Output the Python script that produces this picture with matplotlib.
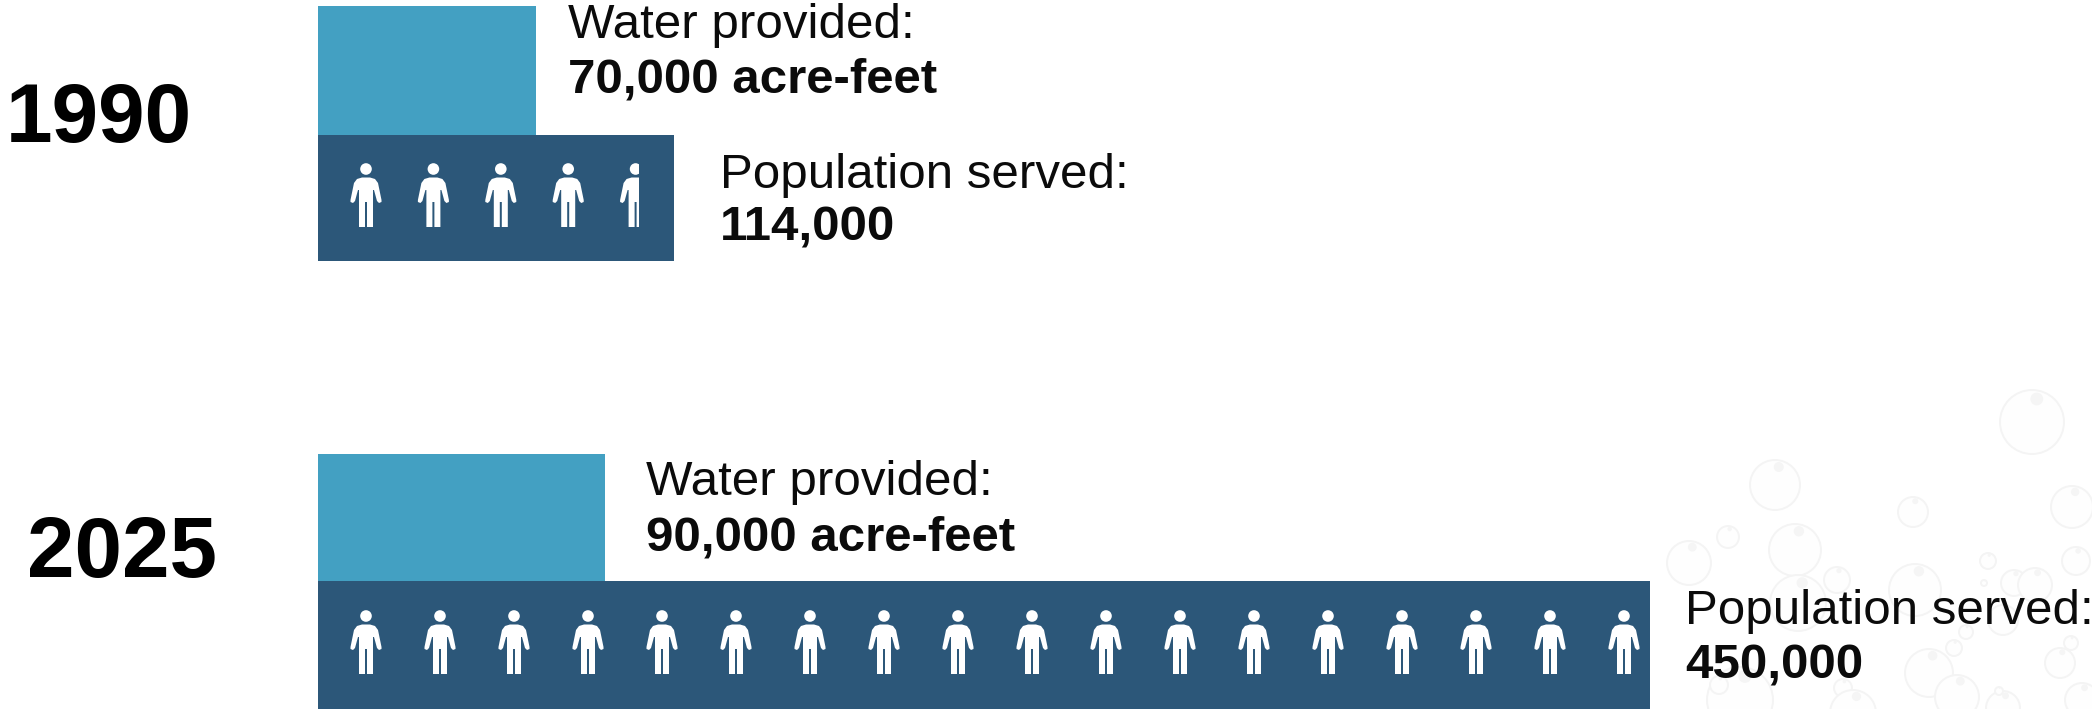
import matplotlib
matplotlib.use("Agg")
import matplotlib.pyplot as plt
from matplotlib.patches import Circle, PathPatch, Rectangle
from matplotlib.path import Path
from matplotlib.transforms import Affine2D

# ---- data ----
years = ["1990", "2025"]
water_labels = ["70,000 acre-feet", "90,000 acre-feet"]
population_labels = ["114,000", "450,000"]
# bar lengths (the source is not strictly to scale), in thousands
water_bar = [70, 92.2]
population_bar = [114.3, 427.9]
# pictogram counts
people_count = [4.35, 18]

# ---- style / layout ----
LIGHT, DARK, INK = "#43A0C2", "#2C5779", "#0B0B0B"
PX_PER_K = 3.114
X0 = 318
W, H = 2092, 709
water_top = [6, 454]
band_top = [135, 581]
band_h = [126, 128]
year_xy = [(98.5, 142), (122.5, 577)]
year_fs = [60.3, 61.5]
water_x = [568, 646]
water_base = [38, 495]
water_bold_base = [93, 550]
pop_x = [720, 1685]
pop_base = [188, 624]
pop_bold_base = [241, 678]
head_y = [169, 616]
person_x0 = 366
person_dx = [67.4, 74.0]
FS = 35.5
bubbles = [(2032,422,32),(1775,485,25),(1913,512,15),(2072,507,21),(1728,537,11),
           (1795,550,26),(1689,563,22),(1837,580,13),(1915,590,26),(2076,561,14),
           (1988,561,8),(2014,583,13),(2035,585,17),(1798,603,28),(2003,620,15),
           (1966,632,7),(1954,648,8),(1929,673,24),(1957,697,22),(2060,663,15),
           (1740,700,33),(2082,700,17),(2003,708,17),(1843,688,9),(1719,685,9),
           (1853,713,23),(2071,643,7),(1999,691,4),(1984,583,3)]

plt.rcParams["font.family"] = ["Liberation Sans", "DejaVu Sans"]
fig = plt.figure(figsize=(W / 100, H / 100), dpi=100, facecolor="white")
ax = fig.add_axes([0, 0, 1, 1])
ax.set_xlim(0, W)
ax.set_ylim(H, 0)
ax.axis("off")

# faint bubbles in the background
for cx, cy, r in bubbles:
    ax.add_patch(Circle((cx, cy), r, fc="#FEFEFE", ec="#F4F4F4", lw=1.4, zorder=1))
    ax.add_patch(Circle((cx + r * 0.15, cy - r * 0.72), r * 0.2, fc="#F5F5F5", ec="none", zorder=1))

# person icon, origin at head centre, y downward, in pixels
def person_path():
    head = Path.circle((0, 0), 5.8)
    v = [(-4, 8.5), (4, 8.5), (9, 10), (12, 14), (15.5, 31), (15.5, 33), (13, 34), (11, 32),
         (8, 21), (7, 21), (7, 58), (1, 58), (1, 33), (-1, 33), (-1, 58), (-7, 58),
         (-7, 21), (-8, 21), (-11, 32), (-13, 34), (-15.5, 33), (-15.5, 31), (-12, 14),
         (-9, 10), (-4, 8.5)]
    c = [Path.MOVETO] + [Path.LINETO] * (len(v) - 2) + [Path.CLOSEPOLY]
    return Path.make_compound_path(head, Path(v, c))

icon = person_path()

for i in range(2):
    ax.add_patch(Rectangle((X0, water_top[i]), water_bar[i] * PX_PER_K,
                           band_top[i] - water_top[i], fc=LIGHT, ec="none", zorder=2))
    ax.add_patch(Rectangle((X0, band_top[i]), population_bar[i] * PX_PER_K,
                           band_h[i], fc=DARK, ec="none", zorder=3))
    n = people_count[i]
    k = 0
    while k < n:
        cx = person_x0 + k * person_dx[i]
        tr = Affine2D().translate(cx, head_y[i]) + ax.transData
        p = PathPatch(icon, fc="white", ec="none", transform=tr, zorder=4)
        ax.add_patch(p)
        if n - k < 1:
            clip = Rectangle((cx - 20, head_y[i] - 10), 20 + 3, 75, transform=ax.transData)
            p.set_clip_path(clip)
        k += 1
    ax.text(*year_xy[i], years[i], fontsize=year_fs[i], fontweight="bold", color="black",
            ha="center", va="baseline", zorder=5)
    ax.text(water_x[i], water_base[i], "Water provided:", fontsize=FS, color=INK,
            va="baseline", zorder=5)
    ax.text(water_x[i], water_bold_base[i], water_labels[i], fontsize=FS, fontweight="bold",
            color=INK, va="baseline", zorder=5)
    ax.text(pop_x[i], pop_base[i], "Population served:", fontsize=FS, color=INK,
            va="baseline", zorder=5)
    ax.text(pop_x[i], pop_bold_base[i], population_labels[i], fontsize=FS, fontweight="bold",
            color=INK, va="baseline", zorder=5)

fig.savefig("out.png", dpi=100)
